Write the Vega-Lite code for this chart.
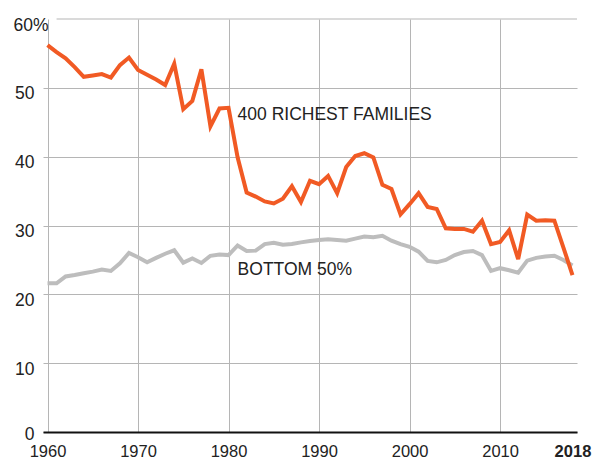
{
  "$schema": "https://vega.github.io/schema/vega-lite/v6.json",
  "width": 534,
  "height": 413,
  "autosize": {"type": "none"},
  "padding": {"left": 43, "top": 19, "right": 16, "bottom": 27},
  "background": "white",
  "config": {
    "view": {"stroke": null},
    "font": "Liberation Sans"
  },
  "datasets": {
    "rich": [
      {"year": 1960, "share": 56.2}, {"year": 1961, "share": 55.2}, {"year": 1962, "share": 54.3},
      {"year": 1963, "share": 53.0}, {"year": 1964, "share": 51.6}, {"year": 1965, "share": 51.8},
      {"year": 1966, "share": 52.0}, {"year": 1967, "share": 51.5}, {"year": 1968, "share": 53.3},
      {"year": 1969, "share": 54.4}, {"year": 1970, "share": 52.6}, {"year": 1971, "share": 51.9},
      {"year": 1972, "share": 51.2}, {"year": 1973, "share": 50.4}, {"year": 1974, "share": 53.5},
      {"year": 1975, "share": 46.9}, {"year": 1976, "share": 48.1}, {"year": 1977, "share": 52.7},
      {"year": 1978, "share": 44.4}, {"year": 1979, "share": 47.0}, {"year": 1980, "share": 47.1},
      {"year": 1981, "share": 39.9}, {"year": 1982, "share": 34.8}, {"year": 1983, "share": 34.2},
      {"year": 1984, "share": 33.5}, {"year": 1985, "share": 33.2}, {"year": 1986, "share": 33.9},
      {"year": 1987, "share": 35.7}, {"year": 1988, "share": 33.4}, {"year": 1989, "share": 36.5},
      {"year": 1990, "share": 36.0}, {"year": 1991, "share": 37.2}, {"year": 1992, "share": 34.7},
      {"year": 1993, "share": 38.5}, {"year": 1994, "share": 40.1}, {"year": 1995, "share": 40.5},
      {"year": 1996, "share": 39.9}, {"year": 1997, "share": 35.9}, {"year": 1998, "share": 35.3},
      {"year": 1999, "share": 31.6}, {"year": 2000, "share": 33.1}, {"year": 2001, "share": 34.7},
      {"year": 2002, "share": 32.7}, {"year": 2003, "share": 32.4}, {"year": 2004, "share": 29.6},
      {"year": 2005, "share": 29.5}, {"year": 2006, "share": 29.5}, {"year": 2007, "share": 29.1},
      {"year": 2008, "share": 30.7}, {"year": 2009, "share": 27.3}, {"year": 2010, "share": 27.6},
      {"year": 2011, "share": 29.3}, {"year": 2012, "share": 25.1}, {"year": 2013, "share": 31.6},
      {"year": 2014, "share": 30.7}, {"year": 2015, "share": 30.75}, {"year": 2016, "share": 30.7},
      {"year": 2017, "share": 26.8}, {"year": 2018, "share": 22.8}
    ],
    "bottom": [
      {"year": 1960, "share": 21.6}, {"year": 1961, "share": 21.6}, {"year": 1962, "share": 22.6},
      {"year": 1963, "share": 22.8}, {"year": 1964, "share": 23.05}, {"year": 1965, "share": 23.3},
      {"year": 1966, "share": 23.6}, {"year": 1967, "share": 23.4}, {"year": 1968, "share": 24.5},
      {"year": 1969, "share": 26.0}, {"year": 1970, "share": 25.4}, {"year": 1971, "share": 24.65},
      {"year": 1972, "share": 25.3}, {"year": 1973, "share": 25.9}, {"year": 1974, "share": 26.4},
      {"year": 1975, "share": 24.6}, {"year": 1976, "share": 25.2}, {"year": 1977, "share": 24.55},
      {"year": 1978, "share": 25.6}, {"year": 1979, "share": 25.8}, {"year": 1980, "share": 25.7},
      {"year": 1981, "share": 27.1}, {"year": 1982, "share": 26.3}, {"year": 1983, "share": 26.35},
      {"year": 1984, "share": 27.3}, {"year": 1985, "share": 27.5}, {"year": 1986, "share": 27.2},
      {"year": 1987, "share": 27.3}, {"year": 1988, "share": 27.55}, {"year": 1989, "share": 27.75},
      {"year": 1990, "share": 27.9}, {"year": 1991, "share": 28.0}, {"year": 1992, "share": 27.9},
      {"year": 1993, "share": 27.8}, {"year": 1994, "share": 28.1}, {"year": 1995, "share": 28.4},
      {"year": 1996, "share": 28.3}, {"year": 1997, "share": 28.5}, {"year": 1998, "share": 27.8},
      {"year": 1999, "share": 27.3}, {"year": 2000, "share": 26.9}, {"year": 2001, "share": 26.2},
      {"year": 2002, "share": 24.85}, {"year": 2003, "share": 24.65}, {"year": 2004, "share": 25.0},
      {"year": 2005, "share": 25.7}, {"year": 2006, "share": 26.15}, {"year": 2007, "share": 26.3},
      {"year": 2008, "share": 25.7}, {"year": 2009, "share": 23.4}, {"year": 2010, "share": 23.8},
      {"year": 2011, "share": 23.5}, {"year": 2012, "share": 23.15}, {"year": 2013, "share": 24.9},
      {"year": 2014, "share": 25.3}, {"year": 2015, "share": 25.5}, {"year": 2016, "share": 25.6},
      {"year": 2017, "share": 25.0}, {"year": 2018, "share": 24.2}
    ]
  },
  "layer": [
    {
      "data": {"name": "bottom"},
      "mark": {"type": "line", "color": "#bdbdbd", "strokeWidth": 4, "strokeJoin": "miter"},
      "encoding": {
        "x": {
          "field": "year", "type": "quantitative",
          "scale": {"domain": [1959.5, 2018.5], "nice": false, "zero": false},
          "axis": {
            "title": null,
            "values": [1960, 1970, 1980, 1990, 2000, 2010, 2018],
            "format": "d",
            "ticks": false,
            "tickSize": 0,
            "domain": true,
            "domainColor": "#111111",
            "domainWidth": 2,
            "grid": true,
            "gridColor": "#b5b5b5",
            "gridWidth": 1,
            "gridOpacity": {"condition": {"test": "datum.value == 2018", "value": 0}, "value": 1},
            "labelFontSize": 16.5,
            "labelColor": "#222222",
            "labelPadding": 11,
            "labelBaseline": "top",
            "labelFontWeight": {"condition": {"test": "datum.value == 2018", "value": "bold"}, "value": "normal"}
          }
        },
        "y": {
          "field": "share", "type": "quantitative",
          "scale": {"domain": [0, 60], "nice": false},
          "axis": {
            "title": null,
            "values": [0, 10, 20, 30, 40, 50, 60],
            "labelExpr": "datum.value == 60 ? '60%' : datum.label",
            "domain": false,
            "ticks": false,
            "tickSize": 0,
            "grid": true,
            "gridColor": "#b5b5b5",
            "gridWidth": 1,
            "gridOpacity": {"condition": {"test": "datum.value == 60", "value": 0}, "value": 1},
            "labelFontSize": 17.5,
            "labelColor": "#222222",
            "labelAlign": "right",
            "labelBaseline": "top",
            "labelOffset": {"condition": {"test": "datum.value == 0", "value": -7}, "value": -3},
            "labelPadding": {"condition": {"test": "datum.value == 60", "value": -5}, "value": 9}
          }
        }
      }
    },
    {
      "data": {"name": "rich"},
      "mark": {"type": "line", "color": "#f15a24", "strokeWidth": 4, "strokeJoin": "miter"},
      "encoding": {
        "x": {"field": "year", "type": "quantitative"},
        "y": {"field": "share", "type": "quantitative"}
      }
    },
    {
      "data": {"values": [{}]},
      "mark": {"type": "rule", "color": "#b5b5b5", "strokeWidth": 1},
      "encoding": {
        "x": {"datum": 1961, "type": "quantitative"},
        "x2": {"datum": 2018.5},
        "y": {"datum": 60, "type": "quantitative"}
      }
    },
    {
      "data": {"values": [{"label": "400 RICHEST FAMILIES", "year": 1981, "share": 45.3}, {"label": "BOTTOM 50%", "year": 1981, "share": 22.8}]},
      "mark": {"type": "text", "align": "left", "baseline": "alphabetic", "fontSize": 17.5, "color": "#222222"},
      "encoding": {
        "x": {"field": "year", "type": "quantitative"},
        "y": {"field": "share", "type": "quantitative"},
        "text": {"field": "label"}
      }
    }
  ]
}
